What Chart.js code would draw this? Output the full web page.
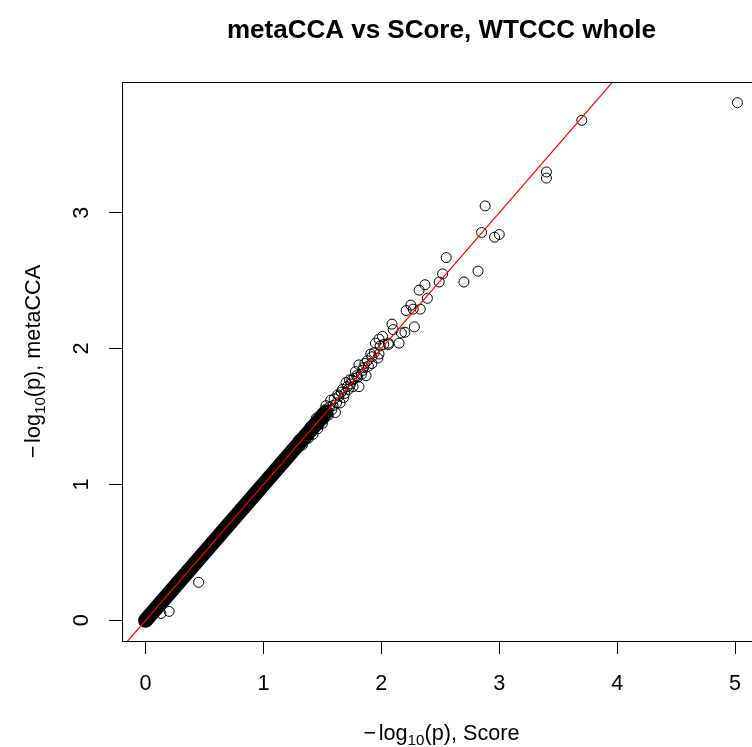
<!DOCTYPE html>
<html>
<head>
<meta charset="utf-8">
<script src="https://cdn.jsdelivr.net/npm/chart.js@4/dist/chart.umd.min.js"></script>
<style>
  html, body { margin: 0; padding: 0; overflow: hidden; background: #fff; }
  canvas { display: block; }
</style>
</head>
<body>
<canvas id="qqChart" width="780" height="747"></canvas>
<script>
// tick values on each axis
var xTicks = [0, 1, 2, 3, 4, 5];
var yTicks = [0, 1, 2, 3];

// solid band of overlapping points along the diagonal (start / end)
var bandX = [0, 1.53];
var bandY = [0, 1.53];

// y = x reference line
var refX = [-0.3, 5.3];
var refY = [-0.3, 5.3];

// single points that can be told apart: -log10(p) Score vs metaCCA
var scoreX = [0.13, 0.20, 0.45,
  1.30, 1.33, 1.36, 1.38, 1.40, 1.42, 1.44, 1.46, 1.48, 1.50, 1.52, 1.53, 1.55, 1.57, 1.58, 1.60,
  1.61, 1.63, 1.65, 1.67, 1.68, 1.70, 1.72, 1.73, 1.75, 1.76, 1.78, 1.79, 1.81, 1.81, 1.83, 1.85,
  1.87, 1.88, 1.91, 1.92, 1.92, 1.94, 1.95, 1.97, 1.98, 1.98, 1.99, 2.01, 2.02, 2.06, 2.06,
  1.45, 1.47, 1.49, 1.51, 1.54, 1.56, 1.59, 1.62, 1.64, 1.66, 1.69, 1.71, 1.74, 1.77, 1.80, 1.84,
  1.86, 1.89,
  2.09, 2.10, 2.15, 2.17, 2.20, 2.21, 2.25, 2.27, 2.28, 2.32, 2.33, 2.37, 2.39, 2.49, 2.52, 2.55,
  2.70, 2.82, 2.85, 2.88, 2.96, 3.00, 3.40, 3.40, 3.70, 5.02];
var metaY = [0.05, 0.066, 0.28,
  1.33, 1.29, 1.38, 1.34, 1.43, 1.37, 1.46, 1.41, 1.50, 1.45, 1.55, 1.58, 1.51, 1.62, 1.55, 1.63,
  1.53, 1.66, 1.60, 1.70, 1.64, 1.75, 1.70, 1.77, 1.77, 1.72, 1.83, 1.80, 1.88, 1.72, 1.81, 1.86,
  1.80, 1.91, 1.96, 1.89, 1.94, 1.97, 2.04, 1.93, 2.07, 1.96, 2.02, 2.09, 2.03, 2.03, 2.04,
  1.49, 1.44, 1.52, 1.48, 1.53, 1.57, 1.58, 1.60, 1.65, 1.68, 1.67, 1.72, 1.74, 1.78, 1.79, 1.84,
  1.89, 1.87,
  2.18, 2.14, 2.04, 2.115, 2.12, 2.28, 2.32, 2.29, 2.16, 2.43, 2.29, 2.47, 2.37, 2.49, 2.55, 2.67,
  2.49, 2.57, 2.855, 3.05, 2.82, 2.84, 3.30, 3.255, 3.68, 3.81];

var FONT = "'Liberation Sans', Arial, Helvetica, sans-serif";
var BASE = 21.67;

function toXY(xs, ys) {
  return xs.map(function (x, i) { return { x: x, y: ys[i] }; });
}

// axis title like R's expression(-log[10](p))
function drawLogLabel(ctx, text, cx, cy, rotate) {
  var minus = "\u2212";
  var pre = "log";
  var sub = "10";
  var post = "(p), " + text;
  var gap = BASE * 0.12;
  ctx.save();
  ctx.translate(cx, cy);
  if (rotate) ctx.rotate(-Math.PI / 2);
  ctx.fillStyle = "#000";
  ctx.textBaseline = "alphabetic";
  ctx.textAlign = "left";
  ctx.font = BASE + "px " + FONT;
  var w0 = ctx.measureText(minus).width + gap;
  var w1 = ctx.measureText(pre).width;
  var w3 = ctx.measureText(post).width;
  ctx.font = (BASE * 0.7) + "px " + FONT;
  var w2 = ctx.measureText(sub).width;
  var start = -(w0 + w1 + w2 + w3) / 2;
  ctx.font = BASE + "px " + FONT;
  ctx.fillText(minus, start, 0);
  ctx.fillText(pre, start + w0, 0);
  ctx.font = (BASE * 0.7) + "px " + FONT;
  ctx.fillText(sub, start + w0 + w1, BASE * 0.25);
  ctx.font = BASE + "px " + FONT;
  ctx.fillText(post, start + w0 + w1 + w2, 0);
  ctx.restore();
}

var rPlotPlugin = {
  id: "rPlot",
  afterDraw: function (chart) {
    var ctx = chart.ctx;
    var a = chart.chartArea;
    var cx = (a.left + a.right) / 2;
    var cy = (a.top + a.bottom) / 2;
    ctx.save();
    ctx.strokeStyle = "#000";
    ctx.lineWidth = 1;
    ctx.beginPath();
    ctx.moveTo(Math.round(a.left) + 0.5, Math.round(a.top) + 0.5);
    ctx.lineTo(Math.round(a.right) + 0.5, Math.round(a.top) + 0.5);
    ctx.lineTo(Math.round(a.right) + 0.5, Math.round(a.bottom) + 0.5);
    ctx.stroke();

    ctx.fillStyle = "#000";
    ctx.font = "bold " + (BASE * 1.2) + "px " + FONT;
    ctx.textAlign = "center";
    ctx.textBaseline = "alphabetic";
    ctx.fillText("metaCCA vs SCore, WTCCC whole", cx, 38);
    ctx.restore();

    drawLogLabel(ctx, "Score", cx, 740, false);
    drawLogLabel(ctx, "metaCCA", 40, cy, true);
  }
};

function fixedTicks(values) {
  return function (scale) {
    scale.ticks = values.map(function (v) { return { value: v }; });
  };
}

window.onload = function () {
  var el = document.getElementById("qqChart");
  new Chart(el, {
    type: "scatter",
    data: {
      datasets: [
        {
          type: "line",
          label: "y = x",
          data: toXY(refX, refY),
          borderColor: "#ff0000",
          borderWidth: 1.2,
          pointRadius: 0,
          fill: false
        },
        {
          label: "SNPs",
          data: toXY(scoreX, metaY),
          pointStyle: "circle",
          pointRadius: 5,
          pointBorderWidth: 1,
          pointBorderColor: "#000",
          pointBackgroundColor: "rgba(0,0,0,0)",
          showLine: false
        },
        {
          type: "line",
          label: "dense SNPs",
          data: toXY(bandX, bandY),
          borderColor: "#000",
          borderWidth: 15,
          borderCapStyle: "round",
          pointRadius: 0,
          fill: false
        }
      ]
    },
    options: {
      responsive: false,
      animation: false,
      devicePixelRatio: 1,
      layout: { padding: { top: 82, right: 19, left: 0, bottom: 0 } },
      plugins: {
        legend: { display: false },
        tooltip: { enabled: false },
        title: { display: false }
      },
      scales: {
        x: {
          type: "linear",
          min: -0.2,
          max: 5.22,
          afterBuildTicks: fixedTicks(xTicks),
          afterFit: function (s) { s.height = 106; },
          grid: { drawOnChartArea: false, drawTicks: true, tickLength: 13, color: "#000", lineWidth: 1 },
          border: { display: true, color: "#000", width: 1 },
          ticks: {
            color: "#000",
            padding: 17,
            maxRotation: 0,
            font: { family: FONT, size: BASE },
            callback: function (v) { return String(v); }
          }
        },
        y: {
          type: "linear",
          min: -0.152,
          max: 3.962,
          afterBuildTicks: fixedTicks(yTicks),
          afterFit: function (s) { s.width = 122; },
          grid: { drawOnChartArea: false, drawTicks: true, tickLength: 13, color: "#000", lineWidth: 1 },
          border: { display: true, color: "#000", width: 1 },
          ticks: {
            color: "#000",
            padding: 21,
            minRotation: 90,
            maxRotation: 90,
            crossAlign: "center",
            font: { family: FONT, size: BASE },
            callback: function (v) { return String(v); }
          }
        }
      }
    },
    plugins: [rPlotPlugin]
  });
};
</script>
</body>
</html>
